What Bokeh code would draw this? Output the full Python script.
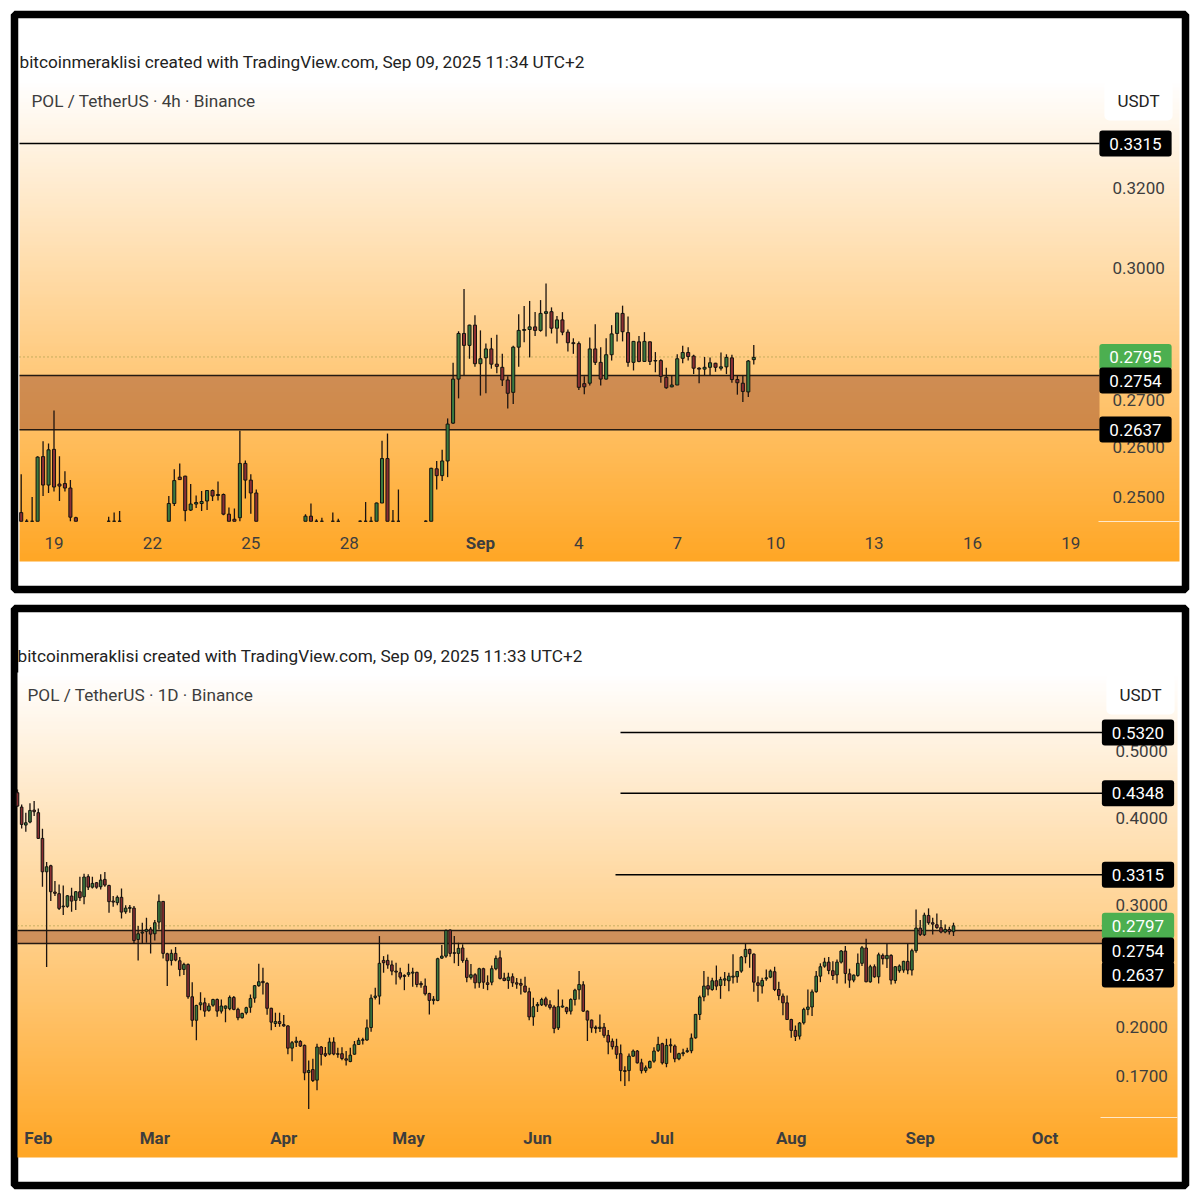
import math
import numpy as np
from bokeh.embed import file_html
from bokeh.layouts import column
from bokeh.models import FixedTicker, Label, LinearAxis, Range1d
from bokeh.plotting import figure
from bokeh.resources import INLINE

# ---- 4h chart ----
top_bar = (list(range(0, 11)) + list(range(16, 19)) + list(range(27, 44)) + list(range(52, 56))
           + [57, 58] + list(range(62, 70)) + list(range(74, 135)))
top_open = [.2468,.2451,.2451,.2451,.2581,.2523,.2596,.2525,.2526,.2517,.2458,
    .2451,.2451,.2451,
    .2451,.2486,.2539,.2541,.2473,.2485,.2486,.2491,.2512,.2504,.2504,.2465,.2455,.2458,.2567,.2533,.2507,
    .2451,.2461,.2451,.2451,
    .2451,.2451,
    .2451,.2451,.2451,.2451,.2487,.2577,.2451,.2451,
    .2451,.2451,.2556,.2542,.2572,.2651,.2746,.2848,.2821,.2867,.2780,.2793,.2813,.2779,.2772,.2744,.2717,.2817,.2855,.2857,.2863,.2855,.2894,.2898,.2860,.2879,.2851,.2827,.2825,.2736,.2737,.2813,.2783,.2746,.2800,.2848,.2894,.2850,.2783,.2829,.2785,.2829,.2787,.2787,.2750,.2729,.2733,.2792,.2805,.2797,.2770,.2768,.2772,.2781,.2770,.2773,.2793,.2745,.2737,.2718,.2789]
top_high = [.2545,.2455,.2499,.2582,.2613,.2608,.2678,.2582,.2551,.2533,.2460,
    .2460,.2468,.2471,
    .2501,.2555,.2567,.2542,.2525,.2502,.2511,.2513,.2514,.2530,.2506,.2478,.2476,.2635,.2573,.2545,.2514,
    .2465,.2486,.2455,.2458,
    .2468,.2456,
    .2453,.2489,.2460,.2488,.2614,.2629,.2473,.2514,
    .2453,.2558,.2572,.2595,.2661,.2782,.2853,.2951,.2868,.2890,.2855,.2825,.2838,.2845,.2802,.2752,.2820,.2892,.2911,.2923,.2897,.2925,.2964,.2908,.2888,.2897,.2857,.2837,.2830,.2752,.2839,.2869,.2817,.2837,.2867,.2895,.2912,.2887,.2831,.2842,.2851,.2830,.2806,.2790,.2771,.2754,.2801,.2820,.2817,.2800,.2772,.2795,.2794,.2782,.2805,.2801,.2800,.2754,.2754,.2788,.2822]
top_low = [.2451,.2451,.2451,.2451,.2501,.2507,.2510,.2491,.2510,.2451,.2451,
    .2451,.2451,.2451,
    .2451,.2481,.2533,.2451,.2471,.2477,.2471,.2473,.2491,.2492,.2463,.2451,.2451,.2451,.2496,.2466,.2451,
    .2451,.2451,.2451,.2451,
    .2451,.2451,
    .2451,.2451,.2451,.2451,.2487,.2451,.2451,.2451,
    .2451,.2451,.2514,.2531,.2539,.2649,.2704,.2754,.2791,.2773,.2710,.2715,.2769,.2759,.2731,.2682,.2692,.2773,.2828,.2794,.2842,.2852,.2841,.2848,.2825,.2844,.2807,.2802,.2722,.2713,.2732,.2777,.2732,.2745,.2787,.2830,.2830,.2773,.2765,.2783,.2784,.2777,.2761,.2738,.2725,.2728,.2733,.2781,.2787,.2757,.2737,.2755,.2755,.2762,.2765,.2757,.2738,.2712,.2696,.2707,.2778]
top_close = [.2451,.2451,.2451,.2580,.2523,.2595,.2519,.2521,.2517,.2459,.2451,
    .2451,.2451,.2451,
    .2486,.2532,.2534,.2472,.2485,.2488,.2490,.2512,.2501,.2502,.2465,.2451,.2451,.2567,.2533,.2507,.2451,
    .2461,.2451,.2451,.2451,
    .2451,.2451,
    .2451,.2451,.2451,.2487,.2577,.2451,.2451,.2451,
    .2451,.2557,.2542,.2572,.2649,.2746,.2848,.2821,.2867,.2780,.2791,.2813,.2779,.2774,.2744,.2715,.2817,.2855,.2857,.2863,.2855,.2894,.2898,.2860,.2879,.2851,.2827,.2825,.2728,.2729,.2813,.2783,.2746,.2800,.2847,.2895,.2852,.2783,.2830,.2785,.2830,.2785,.2786,.2752,.2727,.2733,.2791,.2805,.2796,.2770,.2768,.2772,.2782,.2772,.2773,.2794,.2745,.2738,.2719,.2786,.2794]
top_xticks = [6, 24, 42, 60, 84, 102, 120, 138, 156, 174, 192]
top_xlabels = ["19", "22", "25", "28", "Sep", "4", "7", "10", "13", "16", "19"]
top_yticks = [0.32, 0.30, 0.27, 0.26, 0.25]
top_ylabels = ["0.3200", "0.3000", "0.2700", "0.2600", "0.2500"]
top_level = 0.3315
top_zone = (0.2637, 0.2754)
top_last = 0.2795

# ---- 1D chart ----
day_open = [.4355,.4152,.3911,.3950,.4111,
    .4075,.3741,.3348,.3416,.3130,.3113,.2980,.2984,.3088,.3044,
    .3133,.3081,.3294,.3181,.3228,.3185,.3264,.3199,.3037,.3021,
    .3075,.2931,.2964,.2967,.2673,.2730,.2746,.2767,.2724,.2832,
    .3034,.2549,.2493,.2552,.2490,.2419,.2460,.2209,.2043,.2151,
    .2165,.2111,.2148,.2189,.2106,.2126,.2123,.2204,.2118,.2060,
    .2095,.2133,.2199,.2292,.2325,.2310,.2126,.2021,.2034,.2014,
    .2005,.1862,.1898,.1904,.1879,.1717,.1734,.1674,.1869,.1828,
    .1826,.1900,.1828,
    .1828,.1797,.1781,.1825,.1885,.1911,.1913,
    .1994,.2204,.2214,.2493,.2493,.2456,.2406,.2393,.2372,.2380,
    .2390,.2396,.2309,.2289,.2233,.2182,.2182,.2512,.2529,.2758,
    .2558,.2552,.2598,.2493,.2356,.2377,.2314,.2425,.2314,.2319,
    .2425,.2515,.2350,.2332,.2361,.2314,.2309,.2289,.2246,.2066,
    .2144,.2151,.2194,.2151,.2135,.1992,.2135,.2130,.2106,.2189,
    .2261,.2299,.2106,.2044,.1996,.1988,.1996,.1943,.1905,.1873,
    .1828,.1728,.1728,.1813,.1844,.1773,.1728,.1744,.1783,.1848,
    .1890,.1769,.1883,.1875,.1797,.1828,.1840,.1846,.1927,.2083,
    .2208,.2292,.2263,.2330,.2294,.2335,.2330,.2358,.2361,.2406,
    .2524,.2586,.2546,.2314,.2289,.2345,.2358,.2401,.2263,.2214,
    .2165,.2048,.1975,.1938,.2026,.2118,.2135,.2247,.2366,.2446,
    .2479,.2409,.2376,.2479,.2572,.2384,.2335,.2371,.2469,.2598,
    .2322,.2441,.2361,.2535,.2507,.2535,.2332,.2409,.2414,.2485,
    .2414,.2575,.2776,.2715,.2895,.2826,.2807,.2780,.2740,.2764,
    .2743]
day_high = [.4403,.4189,.4075,.4204,.4236,
    .4134,.3863,.3458,.3427,.3246,.3210,.3199,.3098,.3175,.3140,
    .3294,.3327,.3320,.3294,.3235,.3320,.3345,.3206,.3089,.3095,
    .3168,.2994,.2997,.2987,.2795,.2826,.2873,.2785,.2851,.3105,
    .3037,.2558,.2586,.2606,.2521,.2474,.2468,.2319,.2151,.2243,
    .2201,.2161,.2194,.2196,.2189,.2146,.2219,.2214,.2130,.2095,
    .2137,.2226,.2297,.2465,.2433,.2319,.2130,.2095,.2095,.2079,
    .2009,.1906,.1934,.1911,.1885,.1787,.1797,.1890,.1875,.1869,
    .1927,.1931,.1864,
    .1868,.1844,.1864,.1907,.1928,.1928,.2048,
    .2226,.2276,.2703,.2529,.2543,.2493,.2474,.2433,.2380,.2466,
    .2433,.2401,.2327,.2348,.2238,.2214,.2515,.2624,.2764,.2764,
    .2703,.2644,.2630,.2515,.2463,.2388,.2433,.2433,.2372,.2452,
    .2535,.2577,.2393,.2393,.2388,.2351,.2345,.2361,.2276,.2201,
    .2170,.2201,.2209,.2184,.2147,.2263,.2189,.2137,.2199,.2268,
    .2406,.2327,.2111,.2048,.2007,.2083,.2025,.1977,.1923,.1921,
    .1885,.1753,.1829,.1854,.1850,.1797,.1757,.1787,.1868,.1934,
    .1896,.1921,.1923,.1885,.1834,.1858,.1864,.1955,.2087,.2219,
    .2406,.2361,.2353,.2451,.2361,.2398,.2393,.2545,.2406,.2529,
    .2636,.2592,.2552,.2366,.2353,.2419,.2419,.2441,.2322,.2233,
    .2218,.2053,.2007,.2031,.2130,.2263,.2263,.2406,.2469,.2515,
    .2521,.2487,.2501,.2580,.2615,.2425,.2379,.2552,.2615,.2679,
    .2458,.2460,.2558,.2552,.2635,.2544,.2447,.2460,.2490,.2635,
    .2592,.2954,.2851,.2922,.2964,.2873,.2913,.2851,.2810,.2789,
    .2826]
day_low = [.4157,.3867,.3825,.3933,.4030,
    .3737,.3185,.2439,.3037,.3089,.2947,.2899,.2970,.2932,.2947,
    .3037,.3004,.3150,.3167,.3164,.3157,.3185,.2921,.2980,.2994,
    .2867,.2912,.2922,.2638,.2493,.2638,.2644,.2552,.2664,.2764,
    .2509,.2289,.2452,.2487,.2366,.2374,.2194,.1999,.1911,.2113,
    .2067,.2102,.2137,.2067,.2090,.2030,.2113,.2113,.2043,.2055,
    .2083,.2095,.2165,.2284,.2226,.2081,.1976,.1997,.1999,.1999,
    .1824,.1783,.1869,.1869,.1674,.1521,.1664,.1619,.1757,.1808,
    .1818,.1818,.1803,
    .1789,.1758,.1777,.1821,.1881,.1885,.1909,
    .1966,.2189,.2153,.2393,.2424,.2372,.2301,.2340,.2258,.2361,
    .2283,.2281,.2276,.2218,.2083,.2153,.2177,.2507,.2515,.2524,
    .2469,.2447,.2474,.2319,.2340,.2271,.2276,.2268,.2258,.2296,
    .2413,.2340,.2327,.2268,.2283,.2268,.2226,.2238,.2043,.2006,
    .2100,.2142,.2137,.2118,.1956,.1977,.2130,.2085,.2083,.2146,
    .2189,.2100,.1906,.1960,.1956,.1964,.1928,.1824,.1854,.1797,
    .1668,.1641,.1668,.1809,.1769,.1711,.1715,.1740,.1773,.1838,
    .1763,.1748,.1834,.1777,.1789,.1813,.1834,.1830,.1921,.2044,
    .2177,.2218,.2253,.2258,.2194,.2289,.2250,.2309,.2314,.2393,
    .2469,.2433,.2246,.2172,.2233,.2330,.2350,.2251,.2184,.2077,
    .2044,.1928,.1907,.1917,.2015,.2077,.2072,.2238,.2319,.2433,
    .2380,.2335,.2309,.2468,.2309,.2276,.2319,.2361,.2447,.2319,
    .2314,.2353,.2309,.2460,.2430,.2301,.2309,.2393,.2393,.2381,
    .2371,.2558,.2704,.2704,.2807,.2718,.2770,.2728,.2728,.2718,
    .2704]
day_close = [.4166,.3919,.3941,.4106,.4088,
    .3741,.3348,.3404,.3133,.3116,.2964,.2987,.3091,.3037,.3133,
    .3071,.3290,.3181,.3221,.3181,.3257,.3203,.3031,.3027,.3075,
    .2928,.2967,.2974,.2664,.2724,.2739,.2764,.2721,.2826,.3034,
    .2552,.2490,.2552,.2496,.2419,.2460,.2209,.2043,.2146,.2165,
    .2106,.2142,.2189,.2106,.2142,.2142,.2204,.2118,.2060,.2090,
    .2130,.2196,.2292,.2322,.2315,.2126,.2030,.2034,.2021,.2005,
    .1862,.1896,.1906,.1875,.1715,.1728,.1672,.1869,.1824,.1818,
    .1900,.1826,.1824,
    .1799,.1789,.1819,.1883,.1911,.1915,.1992,
    .2199,.2214,.2469,.2474,.2456,.2406,.2398,.2358,.2364,.2393,
    .2398,.2301,.2299,.2231,.2182,.2191,.2507,.2529,.2755,.2552,
    .2552,.2595,.2493,.2356,.2377,.2314,.2425,.2319,.2301,.2425,
    .2510,.2348,.2332,.2358,.2314,.2304,.2296,.2246,.2066,.2137,
    .2153,.2189,.2149,.2132,.1988,.2137,.2142,.2102,.2189,.2258,
    .2301,.2106,.2044,.1992,.1988,.1996,.1943,.1900,.1871,.1824,
    .1728,.1723,.1813,.1844,.1773,.1728,.1744,.1781,.1844,.1885,
    .1773,.1879,.1877,.1797,.1828,.1834,.1846,.1925,.2083,.2206,
    .2289,.2266,.2330,.2289,.2340,.2345,.2366,.2366,.2403,.2521,
    .2586,.2549,.2319,.2294,.2332,.2353,.2406,.2263,.2218,.2165,
    .2048,.1975,.1936,.2024,.2118,.2135,.2245,.2366,.2441,.2479,
    .2411,.2371,.2479,.2572,.2387,.2335,.2374,.2469,.2600,.2322,
    .2441,.2361,.2540,.2507,.2535,.2335,.2441,.2447,.2485,.2414,
    .2575,.2776,.2718,.2898,.2826,.2813,.2780,.2740,.2764,.2743,
    .2797]
day_index = list(range(-5, 221))  # days since 1 Feb
day_xticks = [0, 28, 59, 89, 120, 150, 181, 212, 242]
day_xlabels = ["Feb", "Mar", "Apr", "May", "Jun", "Jul", "Aug", "Sep", "Oct"]
day_yticks = [0.50, 0.40, 0.30, 0.20, 0.17]
day_ylabels = ["0.5000", "0.4000", "0.3000", "0.2000", "0.1700"]
day_levels = [0.5320, 0.4348, 0.3315]
day_zone = (0.2637, 0.2754)
day_last = 0.2797

UP, DOWN = "#3a7a40", "#8a2e32"
FONT = "Roboto"
TEXT = "#3d3d3d"
DOT = "1 3"


def panel(cfg, height, title_text, sub_text, xticks, xlabels, yticks, ylabels, bold_all):
    """cfg holds the pixel calibration of one panel."""
    fx = cfg["fx"]
    fy = cfg["fy"]
    p = figure(width=1192, height=height, output_backend="svg", toolbar_location=None,
               x_axis_location=None, y_axis_location=None, y_axis_type="log",
               x_range=Range1d(fx(cfg["frame_l"]), fx(cfg["frame_r"])),
               y_range=Range1d(fy(cfg["frame_b"]), fy(cfg["frame_t"])),
               min_border_left=14, min_border_right=7,
               min_border_top=cfg["mt"], min_border_bottom=cfg["mb"],
               outline_line_color="black", outline_line_width=7.5,
               background_fill_color="white", border_fill_color="white")
    p.grid.visible = False
    # panel gradient
    n = 128
    img = np.zeros((n, 1, 4), dtype=np.uint8)
    t = np.linspace(1, 0, n)
    img[:, 0, 0] = 255
    img[:, 0, 1] = (255 - 88 * t).astype(np.uint8)
    img[:, 0, 2] = (255 - 217 * t).astype(np.uint8)
    img[:, 0, 3] = 255
    rgba = img.view(dtype=np.uint32).reshape((n, 1))
    p.image_rgba(image=[rgba], x=fx(cfg["l"]), y=fy(cfg["b"]),
                 dw=fx(cfg["r"]) - fx(cfg["l"]), dh=fy(cfg["t"]) - fy(cfg["b"]), level="image")
    # divider of the price scale
    p.segment(x0=[fx(cfg["div"])], x1=[fx(cfg["r"])], y0=[fy(cfg["axis_b"])], y1=[fy(cfg["axis_b"])],
              line_color="#ffe8c8", line_width=1)
    # x axis
    plain = [(a, b) for a, b in zip(xticks, xlabels) if not (b == "Sep" and not bold_all)]
    bold = [(a, b) for a, b in zip(xticks, xlabels) if b == "Sep" and not bold_all]
    for items, style, loc in ((plain, "bold" if bold_all else "normal", cfg["xloc"]), (bold, "bold", cfg["xloc_bold"])):
        if not items:
            continue
        ax = LinearAxis(ticker=FixedTicker(ticks=[a for a, _ in items]),
                        major_label_overrides={a: b for a, b in items},
                        axis_line_color=None, major_tick_line_color=None, minor_tick_line_color=None,
                        major_label_text_font=FONT, major_label_text_font_size="17px",
                        major_label_text_color=TEXT, major_label_text_font_style=style,
                        major_label_standoff=0, fixed_location=fy(loc))
        p.add_layout(ax, "below")
    # y axis
    ay = LinearAxis(ticker=FixedTicker(ticks=yticks),
                    major_label_overrides=dict(zip(yticks, ylabels)),
                    axis_line_color=None, major_tick_line_color=None, minor_tick_line_color=None,
                    major_label_text_font=FONT, major_label_text_font_size="17px",
                    major_label_text_color=TEXT, major_label_standoff=0,
                    fixed_location=fx(cfg["ylab"]))
    p.add_layout(ay, "right")
    # header texts
    p.add_layout(Label(x=fx(cfg["l"]), y=fy(cfg["title_y"]), text=title_text, text_font=FONT,
                       text_font_size="17.2px", text_color="#222222", text_baseline="middle"))
    p.add_layout(Label(x=fx(cfg["l"] + cfg["sub_dx"]), y=fy(cfg["sub_y"]), text=sub_text, text_font=FONT,
                       text_font_size="17.2px", text_color=TEXT, text_baseline="middle"))
    p.add_layout(Label(x=fx(cfg["usdt_x"]), y=fy(cfg["sub_y"]), text="USDT", text_font=FONT,
                       text_font_size="17px", text_color="#222222", text_baseline="middle",
                       text_align="center", background_fill_color="white", border_radius=5,
                       padding=(13, 10)))
    return p


def candles(p, x, o, h, l, c, width):
    x, o, h, l, c = map(np.array, (x, o, h, l, c))
    up = c >= o
    p.segment(x0=x, x1=x, y0=l, y1=h, line_color="#1c1410", line_width=1.3)
    p.vbar(x=x[up], bottom=o[up], top=c[up], width=width, fill_color=UP,
           line_color="#141410", line_width=1)
    p.vbar(x=x[~up], bottom=c[~up], top=o[~up], width=width, fill_color=DOWN,
           line_color="#141410", line_width=1)


def tag(p, x, y, text, color="black"):
    p.add_layout(Label(x=x, y=y, text=text, text_font=FONT, text_font_size="17px",
                       text_color="white", text_align="center", text_baseline="middle",
                       background_fill_color=color, border_radius=3, padding=(10, 7)))


def zone(p, x0, x1, prices):
    p.quad(left=[x0], right=[x1], bottom=[prices[0]], top=[prices[1]],
           fill_color="#a0522d", fill_alpha=0.5, line_color=None)
    for v in prices:
        p.segment(x0=[x0], x1=[x1], y0=[v], y1=[v], line_color="#241a12", line_width=1.5)


# --- 4h panel ---
cfg1 = dict(fx=lambda v: (v - 21.7) / 5.467, fy=lambda v: 0.25 * math.exp((497 - v) / 1251),
            frame_l=15, frame_r=1186, frame_t=15, frame_b=590, mt=14, mb=11,
            l=20, r=1180, t=80, b=562, axis_b=522, xloc=531, xloc_bold=527, ylab=1107, title_y=62, sub_y=101,
            sub_dx=12, usdt_x=1139, div=1099)
p1 = panel(cfg1, 600, "bitcoinmeraklisi created with TradingView.com, Sep 09, 2025 11:34 UTC+2",
           "POL / TetherUS · 4h · Binance", top_xticks, top_xlabels, top_yticks, top_ylabels, False)
fx, fy = cfg1["fx"], cfg1["fy"]
zone(p1, fx(20), fx(1100), top_zone)
p1.segment(x0=[fx(20)], x1=[fx(1100)], y0=[top_level], y1=[top_level], line_color="black", line_width=1.5)
p1.segment(x0=[fx(20)], x1=[fx(1100)], y0=[top_last], y1=[top_last], line_color="#8f8f3a", line_width=1,
           line_dash=DOT)
candles(p1, top_bar, top_open, top_high, top_low, top_close, 0.56)
tag(p1, fx(1136), top_level, "0.3315")
tag(p1, fx(1136), top_last, "0.2795", "#4caf50")
tag(p1, fx(1136), fy(381), "0.2754")
tag(p1, fx(1136), fy(430), "0.2637")

# --- 1D panel ---
cfg2 = dict(fx=lambda v: (v - 38.8) / 4.16, fy=lambda v: 0.17 * math.exp((1076 - v) / 300.6),
            frame_l=15, frame_r=1186, frame_t=609, frame_b=1186, mt=8, mb=7,
            l=18, r=1178, t=673, b=1158, axis_b=1118, xloc=1122, xloc_bold=1122, ylab=1110, title_y=656, sub_y=695,
            sub_dx=10, usdt_x=1141, div=1101)
p2 = panel(cfg2, 592, "bitcoinmeraklisi created with TradingView.com, Sep 09, 2025 11:33 UTC+2",
           "POL / TetherUS · 1D · Binance", day_xticks, day_xlabels, day_yticks, day_ylabels, True)
fx, fy = cfg2["fx"], cfg2["fy"]
zone(p2, fx(18), fx(1103), day_zone)
for lv, x0 in zip(day_levels, (621, 621, 616)):
    p2.segment(x0=[fx(x0)], x1=[fx(1103)], y0=[lv], y1=[lv], line_color="black", line_width=1.5)
p2.segment(x0=[fx(18)], x1=[fx(1103)], y0=[day_last], y1=[day_last], line_color="#8f8f3a", line_width=1,
           line_dash=DOT)
candles(p2, day_index, day_open, day_high, day_low, day_close, 0.62)
for lv, s in zip(day_levels, ("0.5320", "0.4348", "0.3315")):
    tag(p2, fx(1138.5), lv, s)
tag(p2, fx(1138.5), day_last, "0.2797", "#4caf50")
tag(p2, fx(1138.5), fy(951), "0.2754")
tag(p2, fx(1138.5), fy(975), "0.2637")

layout = column(p1, p2, spacing=0)
open("out.html", "w").write(file_html(layout, INLINE))
